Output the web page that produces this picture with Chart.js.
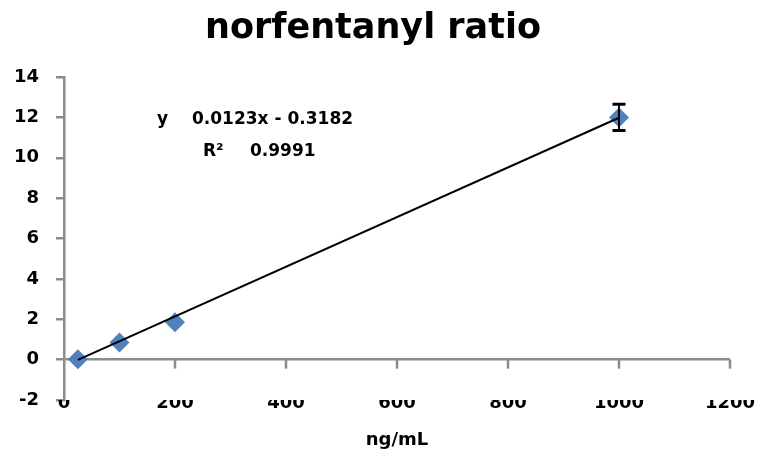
<!DOCTYPE html>
<html lang="en">

<head>
    <meta charset="UTF-8" />
    <title>norfentanyl ratio</title>
    <script src="https://cdn.jsdelivr.net/npm/chart.js"></script>
    <style>
        body {
            margin: 0;
            background-color: #ffffff;
        }

        #wrap {
            width: 761px;
            height: 462px;
        }
    </style>
</head>

<body>
    <div id="wrap"><canvas id="ratioChart" width="761" height="462"></canvas></div>

    <script>
        // concentrations (ng/mL) and measured ratios
        const concentrations = [25, 100, 200, 1000];
        const ratios = [0.02, 0.85, 1.85, 12.0];
        const errors = [0, 0, 0, 0.65];

        // linear trendline ends (y = 0.0123x - 0.3182)
        const trendX = [25, 1000];
        const trendY = [-0.01, 11.98];

        const xTicks = [0, 200, 400, 600, 800, 1000, 1200];
        const yTicks = [-2, 0, 2, 4, 6, 8, 10, 12, 14];

        const equationLines = ['y', '0.0123x - 0.3182', 'R²', '0.9991'];

        const axisGray = '#8c8c8c';
        const font = 'DejaVu Sans';

        // error bars + x tick marks on the zero line + equation label
        const extras = {
            id: 'extras',
            afterDraw(chart) {
                const ctx = chart.ctx;
                const xs = chart.scales.x;
                const ys = chart.scales.y;

                // tick marks hanging from the y = 0 line
                const y0 = ys.getPixelForValue(0);
                ctx.save();
                ctx.strokeStyle = axisGray;
                ctx.lineWidth = 2.5;
                xTicks.forEach(v => {
                    if (v === 0) return;
                    const px = xs.getPixelForValue(v);
                    ctx.beginPath();
                    ctx.moveTo(px, y0);
                    ctx.lineTo(px, y0 + 9);
                    ctx.stroke();
                });
                ctx.restore();

                // equation text
                ctx.save();
                ctx.fillStyle = '#000';
                ctx.font = 'bold 17px "' + font + '"';
                ctx.textBaseline = 'middle';
                ctx.fillText(equationLines[0], 157, 120);
                ctx.fillText(equationLines[1], 192, 120);
                ctx.fillText(equationLines[2], 203, 152);
                ctx.fillText(equationLines[3], 250, 152);
                ctx.restore();
            },
            afterDatasetsDraw(chart) {
                const ctx = chart.ctx;
                const xs = chart.scales.x;
                const ys = chart.scales.y;
                ctx.save();
                ctx.strokeStyle = '#000';
                concentrations.forEach((c, i) => {
                    if (!errors[i]) return;
                    const px = xs.getPixelForValue(c);
                    const top = ys.getPixelForValue(ratios[i] + errors[i]);
                    const bot = ys.getPixelForValue(ratios[i] - errors[i]);
                    ctx.lineWidth = 2;
                    ctx.beginPath();
                    ctx.moveTo(px, top);
                    ctx.lineTo(px, bot);
                    ctx.stroke();
                    ctx.lineWidth = 3;
                    ctx.beginPath();
                    ctx.moveTo(px - 6.5, top);
                    ctx.lineTo(px + 6.5, top);
                    ctx.moveTo(px - 6.5, bot);
                    ctx.lineTo(px + 6.5, bot);
                    ctx.stroke();
                });
                ctx.restore();
            }
        };

        const ctx = document.getElementById('ratioChart').getContext('2d');
        new Chart(ctx, {
            type: 'scatter',
            data: {
                datasets: [
                    {
                        label: 'Linear (ratio)',
                        type: 'line',
                        data: trendX.map((x, i) => ({ x: x, y: trendY[i] })),
                        borderColor: '#000',
                        borderWidth: 2,
                        pointRadius: 0,
                        fill: false
                    },
                    {
                        label: 'ratio',
                        data: concentrations.map((c, i) => ({ x: c, y: ratios[i] })),
                        pointStyle: 'rectRot',
                        pointRadius: 10,
                        pointHoverRadius: 10,
                        backgroundColor: '#4f81bd',
                        borderColor: '#4f81bd',
                        borderWidth: 0
                    }
                ]
            },
            plugins: [extras],
            options: {
                responsive: false,
                animation: false,
                layout: {
                    padding: { left: 16, right: 31, top: 0, bottom: 0 }
                },
                plugins: {
                    legend: { display: false },
                    tooltip: { enabled: false },
                    title: {
                        display: true,
                        text: 'norfentanyl ratio',
                        color: '#000',
                        font: { family: font, size: 35, weight: 'bold' },
                        padding: { top: 8, bottom: 27 }
                    }
                },
                scales: {
                    x: {
                        type: 'linear',
                        min: 0,
                        max: 1200,
                        afterBuildTicks: s => { s.ticks = xTicks.map(v => ({ value: v })); },
                        afterFit: s => { s.height = 62; },
                        grid: { display: false, drawTicks: false },
                        border: { display: false },
                        ticks: {
                            color: '#000',
                            padding: -7,
                            maxRotation: 0,
                            callback: v => String(v),
                            font: { family: font, size: 18, weight: 'bold' }
                        },
                        title: {
                            display: true,
                            text: 'ng/mL',
                            color: '#000',
                            font: { family: font, size: 18, weight: 'bold' },
                            padding: { top: 0, bottom: 11 }
                        }
                    },
                    y: {
                        min: -2,
                        max: 14,
                        afterBuildTicks: s => { s.ticks = yTicks.map(v => ({ value: v })); },
                        afterFit: s => { s.width = 48; },
                        grid: {
                            drawOnChartArea: true,
                            color: c => (c.tick && c.tick.value === 0 ? axisGray : 'transparent'),
                            lineWidth: 2.5,
                            tickColor: axisGray,
                            tickLength: 8
                        },
                        border: { display: true, color: axisGray, width: 2.5 },
                        ticks: {
                            color: '#000',
                            padding: 17,
                            callback: v => String(v),
                            font: { family: font, size: 18, weight: 'bold' }
                        }
                    }
                }
            }
        });
    </script>
</body>

</html>
